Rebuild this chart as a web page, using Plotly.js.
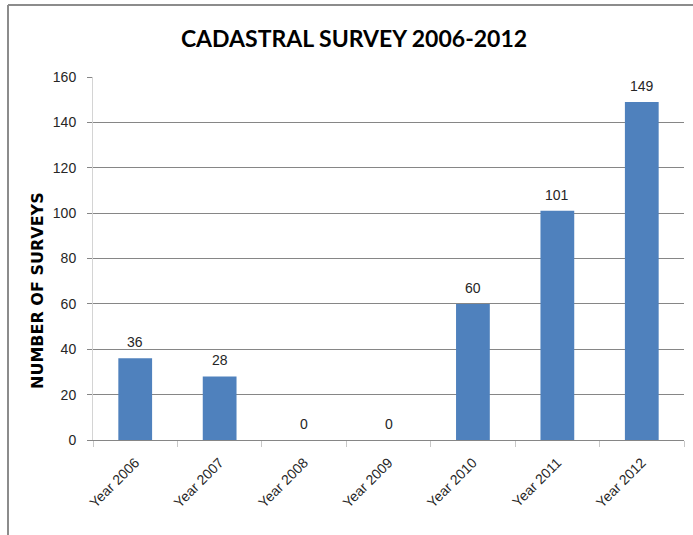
<!DOCTYPE html>
<html>
<head>
<meta charset="utf-8">
<script src="https://cdn.plot.ly/plotly-3.0.1.min.js"></script>
<style>
  html, body { margin: 0; padding: 0; background: #ffffff; }
  #chart { width: 693px; height: 535px; }
</style>
</head>
<body>
<div id="chart"></div>
<script>
// Cadastral surveys completed per year
const years = ["Year 2006", "Year 2007", "Year 2008", "Year 2009", "Year 2010", "Year 2011", "Year 2012"];
const surveys = [36, 28, 0, 0, 60, 101, 149];
const yTicks = [0, 20, 40, 60, 80, 100, 120, 140, 160];

const titleFont = "Lato, 'Open Sans', sans-serif";
const labelFont = "'Liberation Sans', Arial, sans-serif";
const axisTitleFont = "'DejaVu Sans', sans-serif";

const trace = {
  type: "bar",
  x: years,
  y: surveys,
  marker: { color: "#4f81bd", line: { width: 0 } },
  hoverinfo: "x+y"
};

// value labels floating above each bar
const valueLabels = years.map((yr, i) => ({
  x: yr,
  y: surveys[i],
  xref: "x", yref: "y",
  text: String(surveys[i]),
  showarrow: false,
  xanchor: "center",
  yanchor: "middle",
  yshift: 16,
  font: { family: labelFont, size: 14, color: "#262626" }
}));

const layout = {
  width: 693,
  height: 535,
  margin: { l: 93, r: 9, t: 77, b: 95 },
  paper_bgcolor: "#ffffff",
  plot_bgcolor: "#ffffff",
  showlegend: false,
  bargap: 0.6,
  title: {
    text: "<b>CADASTRAL SURVEY 2006-2012</b>",
    font: { family: titleFont, size: 23, color: "#000000" },
    x: 354 / 693,
    xanchor: "center",
    y: 1 - 39 / 535,
    yanchor: "middle"
  },
  xaxis: {
    type: "category",
    tickangle: -45,
    tickson: "boundaries",
    ticks: "outside",
    ticklen: 6,
    tickcolor: "#c8c8c8",
    ticklabelstandoff: 8,
    showline: true,
    linecolor: "#868686",
    linewidth: 1,
    showgrid: false,
    tickfont: { family: labelFont, size: 14, color: "#262626" }
  },
  yaxis: {
    range: [0, 160],
    tickvals: yTicks,
    ticks: "outside",
    ticklen: 5,
    tickcolor: "#868686",
    ticklabelstandoff: 8,
    showgrid: true,
    gridcolor: "#868686",
    gridwidth: 1,
    zeroline: false,
    showline: true,
    linecolor: "#d4d4d4",
    linewidth: 1,
    tickfont: { family: labelFont, size: 14, color: "#262626" }
  },
  annotations: valueLabels.concat([
    {
      text: "<b>NUMBER OF SURVEYS</b>",
      xref: "paper", yref: "paper",
      x: (37 - 93) / 591, y: (440 - 291) / 363,
      xanchor: "center", yanchor: "middle",
      textangle: -90,
      showarrow: false,
      font: { family: axisTitleFont, size: 16, color: "#000000" }
    }
  ]),
  shapes: [
    // outer chart frame (top and left edges)
    {
      type: "line", xref: "paper", yref: "paper",
      x0: (8 - 93) / 591, x1: (693 - 93) / 591,
      y0: (440 - 5) / 363, y1: (440 - 5) / 363,
      line: { color: "#8c8c8c", width: 2 }
    },
    {
      type: "line", xref: "paper", yref: "paper",
      x0: (8 - 93) / 591, x1: (8 - 93) / 591,
      y0: (440 - 5) / 363, y1: (440 - 535) / 363,
      line: { color: "#8c8c8c", width: 2 }
    }
  ]
};

Plotly.newPlot("chart", [trace], layout, { displayModeBar: false, staticPlot: true });
</script>
</body>
</html>
